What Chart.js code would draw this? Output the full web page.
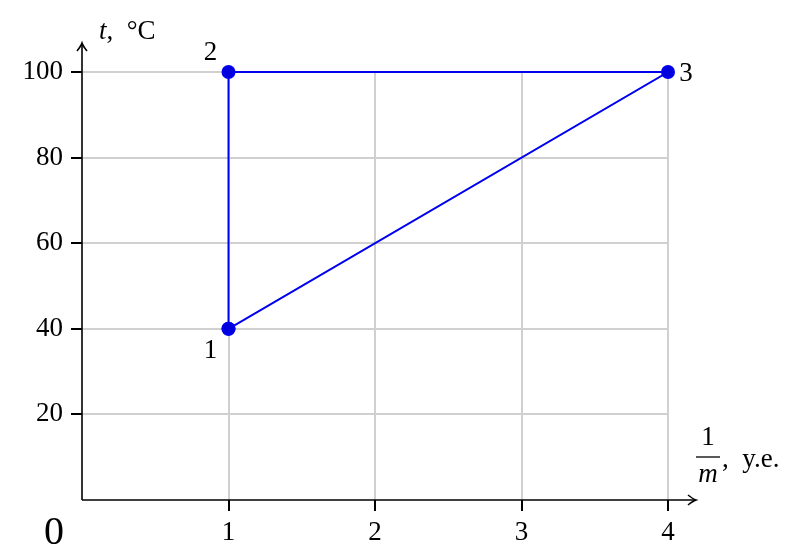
<!DOCTYPE html>
<html>
<head>
<meta charset="utf-8">
<script src="https://cdn.jsdelivr.net/npm/chart.js@4/dist/chart.umd.min.js"></script>
<style>
html,body{margin:0;padding:0;background:#fff;}
#wrap{width:810px;height:559px;}
</style>
</head>
<body>
<div id="wrap"><canvas id="c" width="810" height="559"></canvas></div>
<script>
const xValues = [1, 1, 4, 1];
const yValues = [40, 100, 100, 40];
const pointLabels = ["1", "2", "3"];
const xTicks = [1, 2, 3, 4];
const yTicks = [20, 40, 60, 80, 100];

const SERIF = '"Liberation Serif", "DejaVu Serif", serif';
const FS = 27;
const pts = xValues.map((x, i) => ({x: x, y: yValues[i]}));

const overlay = {
  id: 'overlay',
  beforeDatasetsDraw(chart) {
    const ctx = chart.ctx, a = chart.chartArea;
    ctx.save();
    ctx.strokeStyle = '#000';
    ctx.lineWidth = 1.6;
    ctx.beginPath(); ctx.moveTo(a.left, a.bottom); ctx.lineTo(a.right + 27, a.bottom); ctx.stroke();
    ctx.beginPath(); ctx.moveTo(a.left, a.bottom); ctx.lineTo(a.left, a.top - 28); ctx.stroke();
    const ax = a.right + 28, ay = a.bottom;
    ctx.beginPath(); ctx.moveTo(ax - 8, ay - 5); ctx.quadraticCurveTo(ax - 3, ay - 1, ax, ay); ctx.quadraticCurveTo(ax - 3, ay + 1, ax - 8, ay + 5); ctx.stroke();
    const bx = a.left, by = a.top - 29;
    ctx.beginPath(); ctx.moveTo(bx - 5, by + 8); ctx.quadraticCurveTo(bx - 1, by + 3, bx, by); ctx.quadraticCurveTo(bx + 1, by + 3, bx + 5, by + 8); ctx.stroke();
    ctx.restore();
  },
  afterDatasetsDraw(chart) {
    const ctx = chart.ctx, a = chart.chartArea;
    const meta = chart.getDatasetMeta(0);
    ctx.save();
    ctx.fillStyle = '#000';
    ctx.strokeStyle = '#000';
    ctx.font = FS + 'px ' + SERIF;
    ctx.textAlign = 'center';
    ctx.textBaseline = 'middle';
    const offs = [[-18, 22], [-18, -19], [18, 2]];
    pointLabels.forEach((t, i) => {
      const p = meta.data[i];
      ctx.fillText(t, p.x + offs[i][0], p.y + offs[i][1]);
    });
    ctx.font = '40px ' + SERIF;
    ctx.fillText('0', a.left - 28, a.bottom + 33);
    ctx.textAlign = 'left';
    ctx.font = 'italic ' + FS + 'px ' + SERIF;
    ctx.fillText('t', a.left + 17, a.top - 40);
    const tw = ctx.measureText('t').width;
    ctx.font = FS + 'px ' + SERIF;
    ctx.fillText(',  °C', a.left + 17 + tw, a.top - 40);
    const fx = a.right + 40;
    ctx.textAlign = 'center';
    ctx.fillText('1', fx, a.bottom - 62);
    ctx.lineWidth = 1.3;
    ctx.beginPath(); ctx.moveTo(fx - 12, a.bottom - 43); ctx.lineTo(fx + 12, a.bottom - 43); ctx.stroke();
    ctx.font = 'italic ' + FS + 'px ' + SERIF;
    ctx.fillText('m', fx, a.bottom - 25);
    ctx.font = FS + 'px ' + SERIF;
    ctx.textAlign = 'left';
    ctx.fillText(',  y.e.', fx + 14, a.bottom - 40);
    ctx.restore();
  }
};

const tickCol = ctx => (ctx.tick && ctx.tick.value === 0) ? 'rgba(0,0,0,0)' : '#000';
const gridCol = ctx => (ctx.tick && ctx.tick.value === 0) ? 'rgba(0,0,0,0)' : '#d0d0d0';

new Chart(document.getElementById('c'), {
  type: 'scatter',
  data: {
    datasets: [{
      data: pts,
      showLine: true,
      clip: false,
      borderColor: '#0000ee',
      backgroundColor: '#0000dd',
      borderWidth: 2,
      pointRadius: 6,
      pointHoverRadius: 6,
      tension: 0
    }]
  },
  options: {
    responsive: false,
    animation: false,
    devicePixelRatio: 1,
    layout: {padding: {left: 0, top: 72, right: 142, bottom: 0}},
    plugins: {legend: {display: false}, tooltip: {enabled: false}},
    scales: {
      x: {
        type: 'linear', min: 0, max: 4,
        afterFit(s) { s.height = 59; },
        afterBuildTicks(s) { s.ticks = [0].concat(xTicks).map(v => ({value: v})); },
        border: {display: false},
        grid: {color: gridCol, lineWidth: 2, tickColor: tickCol, tickLength: 11, tickWidth: 2},
        ticks: {color: '#000', padding: 6, font: {family: SERIF, size: FS}, callback: v => v === 0 ? '' : String(v)}
      },
      y: {
        type: 'linear', min: 0, max: 100,
        afterFit(s) { s.width = 82; },
        afterBuildTicks(s) { s.ticks = [0].concat(yTicks).map(v => ({value: v})); },
        border: {display: false},
        grid: {color: gridCol, lineWidth: 2, tickColor: tickCol, tickLength: 11, tickWidth: 2},
        ticks: {color: '#000', padding: 8, font: {family: SERIF, size: FS}, callback: v => v === 0 ? '' : String(v)}
      }
    }
  },
  plugins: [overlay]
});
</script>
</body>
</html>
